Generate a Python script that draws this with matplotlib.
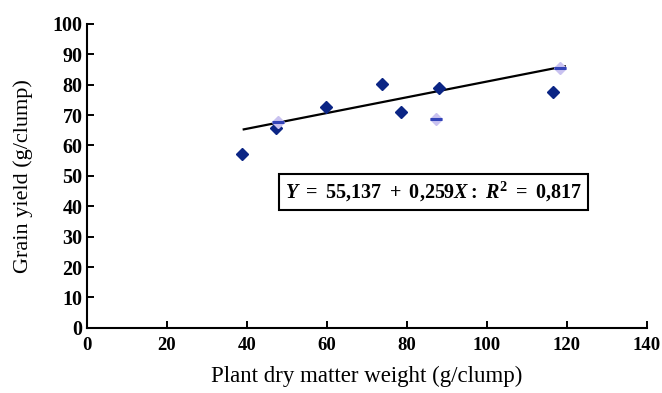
import numpy as np
import matplotlib
matplotlib.use("Agg")
import matplotlib.pyplot as plt

# plant dry matter weight (g/clump) vs grain yield (g/clump)
dry_weight = [38.9, 47.4, 59.9, 73.8, 78.5, 88.1, 116.6]
grain_yield = [57.3, 65.7, 72.8, 80.4, 71.1, 79.0, 77.5]

# second set of points, drawn lighter
dry_weight_b = [47.8, 87.4, 118.3]
grain_yield_b = [67.6, 68.6, 85.6]

# fitted line from the regression equation
intercept = 55.137
slope = 0.259
r_squared = 0.817
fit_range = [39.25, 119.5]

x_ticks = list(range(0, 141, 20))
y_ticks = list(range(0, 101, 10))

plt.rcParams["font.family"] = ["Liberation Serif", "DejaVu Serif"]
plt.rcParams["mathtext.fontset"] = "custom"
plt.rcParams["mathtext.rm"] = "Liberation Serif:bold"
plt.rcParams["mathtext.it"] = "Liberation Serif:italic:bold"
plt.rcParams["mathtext.bf"] = "Liberation Serif:bold"

fig = plt.figure(figsize=(6.62, 3.93), dpi=100)
ax = fig.add_axes([0.131, 0.166, 0.846, 0.773])

navy = "#0b2585"
lav = "#c9c2f0"

ax.plot(dry_weight, grain_yield, linestyle="none", marker="D", ms=6.5,
        mfc=navy, mec=navy, zorder=3)
ax.plot(dry_weight_b, grain_yield_b, linestyle="none", marker="D", ms=6.5,
        mfc=lav, mec=lav, zorder=3)
ax.plot(dry_weight_b, grain_yield_b, linestyle="none", marker="_", ms=8,
        mew=2.2, color="#3344b8", zorder=4)

xs = np.array(fit_range)
ax.plot(xs, intercept + slope * xs, color="black", lw=1.6, zorder=2)

ax.set_xlim(0, 140)
ax.set_ylim(0, 100)
ax.set_xticks(x_ticks)
ax.set_yticks(y_ticks)
ax.spines["top"].set_visible(False)
ax.spines["right"].set_visible(False)
ax.spines["left"].set_linewidth(1.5)
ax.spines["bottom"].set_linewidth(1.5)
ax.tick_params(direction="in", length=5, width=1.4)
ax.tick_params(axis="x", pad=7, labelsize=13.5)
ax.tick_params(axis="y", pad=3, labelsize=14.5)
for lbl in ax.get_xticklabels() + ax.get_yticklabels():
    lbl.set_fontweight("bold")

ax.set_xlabel("Plant dry matter weight (g/clump)", fontsize=16.5, labelpad=8)
ax.set_ylabel("Grain yield (g/clump)", fontsize=16, labelpad=14)

eq = (r"$\mathit{Y}\ =\ %s\ +\ %s\mathit{X}{:}\ \mathit{R}^{2}\ =\ %s$"
      % (f"{intercept:.3f}".replace(".", "{,}"),
         f"{slope:.3f}".replace(".", "{,}"),
         f"{r_squared:.3f}".replace(".", "{,}")))
ax.text(86.75, 44.7, eq, ha="center", va="center", fontsize=14.5,
        bbox=dict(boxstyle="square,pad=0.3", fc="white", ec="black", lw=1.5))

fig.savefig("out.png", dpi=100)
